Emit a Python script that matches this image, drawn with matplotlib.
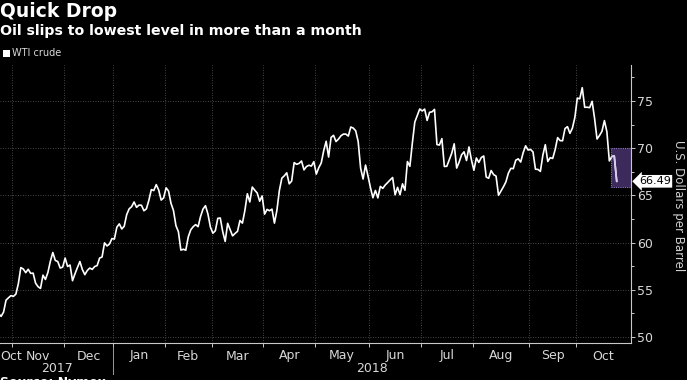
import numpy as np
import pandas as pd
import matplotlib
matplotlib.use("Agg")
import matplotlib.pyplot as plt
from matplotlib import font_manager
from matplotlib.patches import Rectangle
from matplotlib.lines import Line2D

# ---------------- data ----------------
title = "Quick Drop"
subtitle = "Oil slips to lowest level in more than a month"
series_name = "WTI crude"
y_label = "U.S. Dollars per Barrel"
source = "Source: Nymex"
last_label = "66.49"

start_date = "2017-10-24"
end_date = "2018-10-23"
holidays = ["2017-11-23", "2017-12-25", "2018-01-01", "2018-01-15", "2018-02-19",
            "2018-03-30", "2018-05-28", "2018-07-04", "2018-09-03"]

oct17 = [52.47, 52.18, 52.64, 53.90, 54.15, 54.38]
nov17 = [54.30, 54.54, 55.64, 57.35, 57.20, 56.81, 57.17, 56.74, 56.76, 55.70,
         55.33, 55.14, 56.55, 56.09, 56.83, 58.02, 58.95, 58.11, 57.99, 57.30, 57.40]
dec17 = [58.36, 57.47, 57.62, 55.96, 56.69, 57.36, 57.99, 57.14, 56.60, 57.04,
         57.30, 57.16, 57.46, 57.56, 58.36, 58.47, 59.97, 59.64, 59.84, 60.42]
jan18 = [60.37, 61.63, 61.98, 61.44, 61.73, 62.96, 63.57, 63.80, 64.30, 63.73,
         63.97, 63.95, 63.37, 63.57, 64.47, 65.61, 65.51, 66.14, 65.56, 64.50, 64.73]
feb18 = [65.80, 65.45, 64.15, 63.39, 61.79, 61.15, 59.20, 59.29, 59.19, 60.60,
         61.34, 61.68, 61.90, 61.68, 62.77, 63.55, 63.91, 63.01, 61.64]
mar18 = [60.99, 61.25, 62.57, 62.60, 61.15, 60.12, 62.04, 61.36, 60.71, 60.96,
         61.19, 62.34, 62.06, 63.40, 65.17, 64.30, 65.88, 65.55, 65.25, 64.38, 64.94]
apr18 = [63.01, 63.51, 63.37, 63.54, 62.06, 63.42, 65.51, 66.82, 67.07, 67.39,
         66.22, 66.52, 68.47, 68.29, 68.38, 68.64, 67.70, 68.05, 68.19, 68.10, 68.57]
may18 = [67.25, 67.93, 68.43, 69.72, 70.73, 69.06, 71.14, 71.36, 70.70, 70.96,
         71.31, 71.49, 71.49, 71.28, 72.24, 72.13, 71.84, 70.71, 67.88, 66.73, 68.21, 67.04]
jun18 = [65.81, 64.75, 65.52, 64.73, 65.95, 65.74, 66.10, 66.36, 66.64, 66.89,
         65.06, 65.85, 65.07, 66.22, 65.54, 68.58, 68.08, 70.53, 72.76, 73.45, 74.15]
jul18 = [73.94, 74.14, 72.94, 73.80, 73.85, 74.11, 70.38, 70.33, 71.01, 68.06,
         68.08, 68.76, 69.46, 70.46, 67.89, 68.52, 69.30, 69.61, 68.69, 70.13, 68.76]
aug18 = [67.66, 68.96, 68.49, 69.01, 69.17, 66.94, 66.81, 67.63, 67.20, 67.04,
         65.01, 65.46, 65.91, 66.43, 67.35, 67.86, 67.83, 68.72, 68.87, 68.53, 69.51, 70.25, 69.80]
sep18 = [69.87, 69.60, 67.77, 67.75, 67.54, 69.25, 70.37, 68.59, 68.99, 68.91,
         69.85, 71.12, 70.80, 70.78, 72.08, 72.28, 71.57, 72.12, 73.25]
oct18 = [75.30, 75.23, 76.41, 74.33, 74.34, 74.29, 74.96, 73.17, 70.97, 71.34,
         71.78, 72.92, 71.75, 68.65, 69.12, 69.17, 66.49]

y_ticks = [50, 55, 60, 65, 70, 75]
highlight_low, highlight_high = 65.9, 70.0
highlight_start = "2018-10-19"

# ---------------- fonts ----------------
available = {f.name for f in font_manager.fontManager.ttflist}
narrow = "Liberation Sans Narrow" if "Liberation Sans Narrow" in available else "DejaVu Sans"

# ---------------- build ----------------
dates = pd.bdate_range(start_date, end_date, freq="C", holidays=holidays)
values = np.array(oct17 + nov17 + dec17 + jan18 + feb18 + mar18 + apr18 + may18 +
                  jun18 + jul18 + aug18 + sep18 + oct18)
assert len(dates) == len(values), (len(dates), len(values))
x = np.arange(len(values))

mcode = np.asarray(dates.year * 12 + dates.month)
change = np.where(mcode[1:] != mcode[:-1])[0] + 1
bounds = change - 0.5

W, H = 687, 380
fig = plt.figure(figsize=(W / 100, H / 100), dpi=100, facecolor="black")
ax_l, ax_r, ax_t, ax_b = 0, 631, 65, 343
ax = fig.add_axes([ax_l / W, 1 - ax_b / H, (ax_r - ax_l) / W, (ax_b - ax_t) / H])
ax.set_facecolor("black")

xlim_left = 0.55
xlim_right = bounds[-1] + 22.3
ax.set_xlim(xlim_left, xlim_right)
ax.set_ylim(49.36, 78.81)

grid_col = "#5e5e5e"
dot = (0, (1, 2))
for b in bounds:
    ax.axvline(b, color=grid_col, lw=0.6, ls=dot, zorder=1)
for t in y_ticks:
    ax.axhline(t, color=grid_col, lw=0.6, ls=dot, zorder=1)

# highlight box
hs = int(np.where(dates == pd.Timestamp(highlight_start))[0][0]) - 0.4
rect = Rectangle((hs, highlight_low), xlim_right - hs, highlight_high - highlight_low,
                 facecolor="#3c2a5c", edgecolor="#8b70b8", lw=0.8, ls=(0, (1, 1)), zorder=2)
ax.add_patch(rect)

ax.plot(x, values, color="white", lw=1.2, zorder=3, solid_joinstyle="round")
over, = ax.plot(x, values, color="#d9c9f0", lw=1.2, zorder=4)
over.set_clip_path(rect)

# spines & ticks
for s in ["left", "top"]:
    ax.spines[s].set_visible(False)
for s in ["right", "bottom"]:
    ax.spines[s].set_color("#c8c8c8")
    ax.spines[s].set_linewidth(0.8)
ax.yaxis.tick_right()
ax.set_yticks(y_ticks)
ax.set_yticks([t + 2.5 for t in y_ticks], minor=True)
ax.tick_params(axis="y", which="major", direction="out", length=3, width=0.7,
               colors="#c8c8c8", labelsize=9, pad=1.5, labelcolor="#d8d8d8")
ax.tick_params(axis="y", which="minor", direction="out", length=2.5, width=0.7, colors="#c8c8c8")
for lab in ax.get_yticklabels():
    lab.set_family(narrow)
ax.set_xticks(bounds)
ax.set_xticklabels([])
ax.tick_params(axis="x", direction="out", length=3, width=0.7, colors="#c8c8c8")

# month labels
tr = ax.get_xaxis_transform()
px = 1.0 / (ax_b - ax_t)
edges = [xlim_left] + list(bounds) + [xlim_right]
for i in range(len(edges) - 1):
    idx = int(np.ceil(edges[i])) if i > 0 else 0
    name = dates[min(idx, len(dates) - 1)].strftime("%b")
    if i == 0:
        ax.text(edges[i] + 0.3, -13 * px, name, transform=tr, ha="left", va="center",
                color="#d8d8d8", fontsize=9, family=narrow)
    else:
        ax.text((edges[i] + edges[i + 1]) / 2, -13 * px, name, transform=tr, ha="center",
                va="center", color="#d8d8d8", fontsize=9, family=narrow)

# year labels
jan_b = bounds[np.where(dates[change].month == 1)[0][0]]
ax.text((xlim_left + jan_b) / 2, -26 * px, str(dates[0].year), transform=tr, ha="center",
        va="center", color="#d8d8d8", fontsize=9, family=narrow)
ax.text((jan_b + xlim_right) / 2, -26 * px, str(dates[-1].year), transform=tr, ha="center",
        va="center", color="#d8d8d8", fontsize=9, family=narrow)
ax.add_line(Line2D([jan_b, jan_b], [-4 * px, -31 * px], transform=tr, color="#9a9a9a",
                   lw=0.7, clip_on=False))

# last value label
ax.annotate(last_label, xy=(xlim_right, values[-1]), xytext=(8, 0), textcoords="offset pixels",
            ha="left", va="center", fontsize=8, color="black", family=narrow,
            bbox=dict(boxstyle="larrow,pad=0.12", fc="white", ec="none"), annotation_clip=False)

# y label
fig.text(678 / W, 1 - 206 / H, y_label, rotation=270, ha="center", va="center",
         color="#d0d0d0", fontsize=8.5)

# titles
fig.text(0, 1 - 17 / H, title, ha="left", va="baseline", color="white", fontsize=13.5,
         fontweight="bold")
fig.text(0, 1 - 35 / H, subtitle, ha="left", va="baseline", color="white", fontsize=10.2,
         fontweight="bold")

# legend
fig.add_artist(Rectangle((3 / W, 1 - 57 / H), 7 / W, 7 / H, transform=fig.transFigure,
                         facecolor="white", edgecolor="none"))
fig.text(12 / W, 1 - 53.5 / H, series_name, ha="left", va="center", color="#d8d8d8",
         fontsize=7, family=narrow)

# source (partly cut off at the bottom, as in the reference)
fig.text(0, 1 - 376 / H, source, ha="left", va="top", color="white", fontsize=9,
         fontweight="bold")

fig.savefig("out.png", dpi=100, facecolor="black")
